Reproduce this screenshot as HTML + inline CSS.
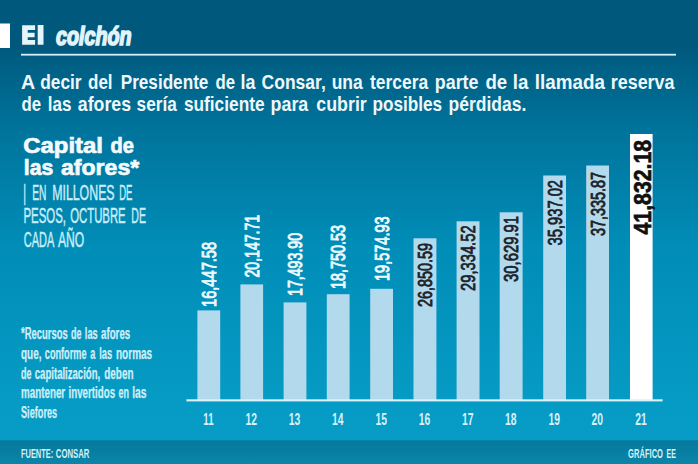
<!DOCTYPE html>
<html><head><meta charset="utf-8"><title>El colchón</title>
<style>
html,body{margin:0;padding:0;background:#0a97c2;}
body{width:698px;height:464px;overflow:hidden;font-family:"Liberation Sans",sans-serif;}
svg{display:block;font-family:"Liberation Sans",sans-serif;}
</style></head><body>
<svg width="698" height="464" viewBox="0 0 698 464">
<defs>
<linearGradient id="bg" gradientUnits="userSpaceOnUse" x1="0" y1="0" x2="0" y2="464">
<stop offset="0" stop-color="#00597d"/>
<stop offset="0.10" stop-color="#00597d"/>
<stop offset="0.29" stop-color="#00759d"/>
<stop offset="0.53" stop-color="#008db7"/>
<stop offset="0.86" stop-color="#069bc4"/>
<stop offset="1" stop-color="#069cc5"/>
</linearGradient>
<linearGradient id="ft" x1="0" y1="0" x2="0" y2="1">
<stop offset="0" stop-color="#05799b"/>
<stop offset="1" stop-color="#0a85a9"/>
</linearGradient>
</defs>
<rect x="0" y="0" width="698" height="464" fill="url(#bg)"/>
<rect x="0" y="440.3" width="698" height="24" fill="url(#ft)"/>
<rect x="0" y="23.5" width="10" height="24.5" fill="#ffffff"/>
<rect x="21" y="53.8" width="655" height="1.8" fill="#d8eef6"/>

<path d="M22.1 25.2H35.1V29.9H27.7V32.7H34.6V37.3H27.7V40.1H35.1V44.8H22.1Z M37.7 25H43.5V44.8H37.7Z" fill="#e6f4fb"/>
<text x="56" y="44.8" font-size="25.2" font-weight="bold" font-style="italic" fill="#e3f3fa" textLength="75.5" lengthAdjust="spacingAndGlyphs" stroke="#e3f3fa" stroke-width="1.7">colchón</text>
<text x="20.9" y="88.5" font-size="19.3" font-weight="bold" font-style="normal" fill="#eef8fc" textLength="14.2" lengthAdjust="spacingAndGlyphs" >A</text>
<text x="40.2" y="88.5" font-size="19.3" font-weight="bold" font-style="normal" fill="#eef8fc" textLength="41.4" lengthAdjust="spacingAndGlyphs" >decir</text>
<text x="88" y="88.5" font-size="19.3" font-weight="bold" font-style="normal" fill="#eef8fc" textLength="24.6" lengthAdjust="spacingAndGlyphs" >del</text>
<text x="120.7" y="88.5" font-size="19.3" font-weight="bold" font-style="normal" fill="#eef8fc" textLength="87.7" lengthAdjust="spacingAndGlyphs" >Presidente</text>
<text x="215.6" y="88.5" font-size="19.3" font-weight="bold" font-style="normal" fill="#eef8fc" textLength="19.6" lengthAdjust="spacingAndGlyphs" >de</text>
<text x="240.6" y="88.5" font-size="19.3" font-weight="bold" font-style="normal" fill="#eef8fc" textLength="14.9" lengthAdjust="spacingAndGlyphs" >la</text>
<text x="261.6" y="88.5" font-size="19.3" font-weight="bold" font-style="normal" fill="#eef8fc" textLength="64.2" lengthAdjust="spacingAndGlyphs" >Consar,</text>
<text x="331.7" y="88.5" font-size="19.3" font-weight="bold" font-style="normal" fill="#eef8fc" textLength="31.1" lengthAdjust="spacingAndGlyphs" >una</text>
<text x="370" y="88.5" font-size="19.3" font-weight="bold" font-style="normal" fill="#eef8fc" textLength="58.2" lengthAdjust="spacingAndGlyphs" >tercera</text>
<text x="434.8" y="88.5" font-size="19.3" font-weight="bold" font-style="normal" fill="#eef8fc" textLength="43.7" lengthAdjust="spacingAndGlyphs" >parte</text>
<text x="485.4" y="88.5" font-size="19.3" font-weight="bold" font-style="normal" fill="#eef8fc" textLength="21.8" lengthAdjust="spacingAndGlyphs" >de</text>
<text x="512.8" y="88.5" font-size="19.3" font-weight="bold" font-style="normal" fill="#eef8fc" textLength="15.6" lengthAdjust="spacingAndGlyphs" >la</text>
<text x="534.8" y="88.5" font-size="19.3" font-weight="bold" font-style="normal" fill="#eef8fc" textLength="70.1" lengthAdjust="spacingAndGlyphs" >llamada</text>
<text x="610.8" y="88.5" font-size="19.3" font-weight="bold" font-style="normal" fill="#eef8fc" textLength="63.7" lengthAdjust="spacingAndGlyphs" >reserva</text>
<text x="21.4" y="111.3" font-size="19.3" font-weight="bold" font-style="normal" fill="#eef8fc" textLength="19.6" lengthAdjust="spacingAndGlyphs" >de</text>
<text x="47.8" y="111.3" font-size="19.3" font-weight="bold" font-style="normal" fill="#eef8fc" textLength="23.7" lengthAdjust="spacingAndGlyphs" >las</text>
<text x="77.8" y="111.3" font-size="19.3" font-weight="bold" font-style="normal" fill="#eef8fc" textLength="53.2" lengthAdjust="spacingAndGlyphs" >afores</text>
<text x="136.6" y="111.3" font-size="19.3" font-weight="bold" font-style="normal" fill="#eef8fc" textLength="40.2" lengthAdjust="spacingAndGlyphs" >sería</text>
<text x="183.9" y="111.3" font-size="19.3" font-weight="bold" font-style="normal" fill="#eef8fc" textLength="80.7" lengthAdjust="spacingAndGlyphs" >suficiente</text>
<text x="270.6" y="111.3" font-size="19.3" font-weight="bold" font-style="normal" fill="#eef8fc" textLength="37.7" lengthAdjust="spacingAndGlyphs" >para</text>
<text x="316.3" y="111.3" font-size="19.3" font-weight="bold" font-style="normal" fill="#eef8fc" textLength="50.5" lengthAdjust="spacingAndGlyphs" >cubrir</text>
<text x="372.4" y="111.3" font-size="19.3" font-weight="bold" font-style="normal" fill="#eef8fc" textLength="69.8" lengthAdjust="spacingAndGlyphs" >posibles</text>
<text x="448.6" y="111.3" font-size="19.3" font-weight="bold" font-style="normal" fill="#eef8fc" textLength="77.7" lengthAdjust="spacingAndGlyphs" >pérdidas.</text>
<text x="23.3" y="152.8" font-size="21.4" font-weight="bold" font-style="normal" fill="#f2fafd" textLength="79.7" lengthAdjust="spacingAndGlyphs" stroke="#f2fafd" stroke-width="0.7">Capital</text>
<text x="110.4" y="152.8" font-size="21.4" font-weight="bold" font-style="normal" fill="#f2fafd" textLength="23.4" lengthAdjust="spacingAndGlyphs" stroke="#f2fafd" stroke-width="0.7">de</text>
<text x="23.8" y="175.1" font-size="21.4" font-weight="bold" font-style="normal" fill="#f2fafd" textLength="29.4" lengthAdjust="spacingAndGlyphs" stroke="#f2fafd" stroke-width="0.7">las</text>
<text x="61" y="175.1" font-size="21.4" font-weight="bold" font-style="normal" fill="#f2fafd" textLength="78.2" lengthAdjust="spacingAndGlyphs" stroke="#f2fafd" stroke-width="0.7">afores*</text>
<text x="23.3" y="199.8" font-size="22.5" font-weight="normal" font-style="normal" fill="#c8edf9" textLength="2.8" lengthAdjust="spacingAndGlyphs" stroke="#c8edf9" stroke-width="0.5">|</text>
<text x="32.3" y="199.8" font-size="22.5" font-weight="normal" font-style="normal" fill="#c8edf9" textLength="14.2" lengthAdjust="spacingAndGlyphs" stroke="#c8edf9" stroke-width="0.5">EN</text>
<text x="52.2" y="199.8" font-size="22.5" font-weight="normal" font-style="normal" fill="#c8edf9" textLength="62.4" lengthAdjust="spacingAndGlyphs" stroke="#c8edf9" stroke-width="0.5">MILLONES</text>
<text x="119.2" y="199.8" font-size="22.5" font-weight="normal" font-style="normal" fill="#c8edf9" textLength="13.3" lengthAdjust="spacingAndGlyphs" stroke="#c8edf9" stroke-width="0.5">DE</text>
<text x="23.5" y="223.2" font-size="22.5" font-weight="normal" font-style="normal" fill="#c8edf9" textLength="42.5" lengthAdjust="spacingAndGlyphs" stroke="#c8edf9" stroke-width="0.5">PESOS,</text>
<text x="70.2" y="223.2" font-size="22.5" font-weight="normal" font-style="normal" fill="#c8edf9" textLength="55.5" lengthAdjust="spacingAndGlyphs" stroke="#c8edf9" stroke-width="0.5">OCTUBRE</text>
<text x="131.3" y="223.2" font-size="22.5" font-weight="normal" font-style="normal" fill="#c8edf9" textLength="14.6" lengthAdjust="spacingAndGlyphs" stroke="#c8edf9" stroke-width="0.5">DE</text>
<text x="23.7" y="247" font-size="22.5" font-weight="normal" font-style="normal" fill="#c8edf9" textLength="30.6" lengthAdjust="spacingAndGlyphs" stroke="#c8edf9" stroke-width="0.5">CADA</text>
<text x="58" y="247" font-size="22.5" font-weight="normal" font-style="normal" fill="#c8edf9" textLength="26.3" lengthAdjust="spacingAndGlyphs" stroke="#c8edf9" stroke-width="0.5">AÑO</text>
<text x="21" y="339.1" font-size="15.6" font-weight="bold" font-style="normal" fill="#cfeffa" textLength="46.7" lengthAdjust="spacingAndGlyphs" stroke="#cfeffa" stroke-width="0.25">*Recursos</text>
<text x="71" y="339.1" font-size="15.6" font-weight="bold" font-style="normal" fill="#cfeffa" textLength="10.5" lengthAdjust="spacingAndGlyphs" stroke="#cfeffa" stroke-width="0.25">de</text>
<text x="84.8" y="339.1" font-size="15.6" font-weight="bold" font-style="normal" fill="#cfeffa" textLength="12.9" lengthAdjust="spacingAndGlyphs" stroke="#cfeffa" stroke-width="0.25">las</text>
<text x="101" y="339.1" font-size="15.6" font-weight="bold" font-style="normal" fill="#cfeffa" textLength="29.2" lengthAdjust="spacingAndGlyphs" stroke="#cfeffa" stroke-width="0.25">afores</text>
<text x="21" y="358.9" font-size="15.6" font-weight="bold" font-style="normal" fill="#cfeffa" textLength="20.5" lengthAdjust="spacingAndGlyphs" stroke="#cfeffa" stroke-width="0.25">que,</text>
<text x="44.8" y="358.9" font-size="15.6" font-weight="bold" font-style="normal" fill="#cfeffa" textLength="41.7" lengthAdjust="spacingAndGlyphs" stroke="#cfeffa" stroke-width="0.25">conforme</text>
<text x="90.2" y="358.9" font-size="15.6" font-weight="bold" font-style="normal" fill="#cfeffa" textLength="5.1" lengthAdjust="spacingAndGlyphs" stroke="#cfeffa" stroke-width="0.25">a</text>
<text x="99.2" y="358.9" font-size="15.6" font-weight="bold" font-style="normal" fill="#cfeffa" textLength="13.0" lengthAdjust="spacingAndGlyphs" stroke="#cfeffa" stroke-width="0.25">las</text>
<text x="116" y="358.9" font-size="15.6" font-weight="bold" font-style="normal" fill="#cfeffa" textLength="36.2" lengthAdjust="spacingAndGlyphs" stroke="#cfeffa" stroke-width="0.25">normas</text>
<text x="21" y="378.7" font-size="15.6" font-weight="bold" font-style="normal" fill="#cfeffa" textLength="10.5" lengthAdjust="spacingAndGlyphs" stroke="#cfeffa" stroke-width="0.25">de</text>
<text x="34.8" y="378.7" font-size="15.6" font-weight="bold" font-style="normal" fill="#cfeffa" textLength="65.4" lengthAdjust="spacingAndGlyphs" stroke="#cfeffa" stroke-width="0.25">capitalización,</text>
<text x="104.2" y="378.7" font-size="15.6" font-weight="bold" font-style="normal" fill="#cfeffa" textLength="29.3" lengthAdjust="spacingAndGlyphs" stroke="#cfeffa" stroke-width="0.25">deben</text>
<text x="21" y="398.4" font-size="15.6" font-weight="bold" font-style="normal" fill="#cfeffa" textLength="44.2" lengthAdjust="spacingAndGlyphs" stroke="#cfeffa" stroke-width="0.25">mantener</text>
<text x="68.5" y="398.4" font-size="15.6" font-weight="bold" font-style="normal" fill="#cfeffa" textLength="46.7" lengthAdjust="spacingAndGlyphs" stroke="#cfeffa" stroke-width="0.25">invertidos</text>
<text x="118.5" y="398.4" font-size="15.6" font-weight="bold" font-style="normal" fill="#cfeffa" textLength="10.5" lengthAdjust="spacingAndGlyphs" stroke="#cfeffa" stroke-width="0.25">en</text>
<text x="132.2" y="398.4" font-size="15.6" font-weight="bold" font-style="normal" fill="#cfeffa" textLength="14.3" lengthAdjust="spacingAndGlyphs" stroke="#cfeffa" stroke-width="0.25">las</text>
<text x="21" y="417.9" font-size="15.6" font-weight="bold" font-style="normal" fill="#cfeffa" textLength="36.2" lengthAdjust="spacingAndGlyphs" stroke="#cfeffa" stroke-width="0.25">Siefores</text>
<text x="21" y="457.6" font-size="13.2" font-weight="bold" font-style="normal" fill="#d5f0f8" textLength="32.2" lengthAdjust="spacingAndGlyphs" >FUENTE:</text>
<text x="55.8" y="457.6" font-size="13.2" font-weight="bold" font-style="normal" fill="#d5f0f8" textLength="33.6" lengthAdjust="spacingAndGlyphs" >CONSAR</text>
<text x="628.1" y="457.6" font-size="13.2" font-weight="bold" font-style="normal" fill="#d5f0f8" textLength="34.9" lengthAdjust="spacingAndGlyphs" >GRÁFICO</text>
<text x="666.5" y="457.6" font-size="13.2" font-weight="bold" font-style="normal" fill="#d5f0f8" textLength="9.3" lengthAdjust="spacingAndGlyphs" >EE</text>
<rect x="197.4" y="310.4" width="22.799999999999983" height="89.60000000000002" fill="#b3d9ed"/>
<rect x="240.4" y="284.4" width="22.700000000000017" height="115.60000000000002" fill="#b3d9ed"/>
<rect x="283.6" y="302.4" width="22.799999999999955" height="97.60000000000002" fill="#b3d9ed"/>
<rect x="326.8" y="294.2" width="22.80000000000001" height="105.80000000000001" fill="#b3d9ed"/>
<rect x="370.2" y="288.8" width="22.80000000000001" height="111.19999999999999" fill="#b3d9ed"/>
<rect x="413.5" y="238.3" width="22.899999999999977" height="161.7" fill="#b3d9ed"/>
<rect x="456.6" y="221.3" width="22.899999999999977" height="178.7" fill="#b3d9ed"/>
<rect x="499.7" y="212.3" width="22.900000000000034" height="187.7" fill="#b3d9ed"/>
<rect x="543.2" y="175.5" width="22.799999999999955" height="224.5" fill="#b3d9ed"/>
<rect x="586.2" y="165.5" width="22.799999999999955" height="234.5" fill="#b3d9ed"/>
<rect x="630.0" y="134.0" width="22.600000000000023" height="266.0" fill="#ffffff"/>
<rect x="186.4" y="399.3" width="476.2" height="2.1" fill="#dbf2fa"/>
<text x="203.3" y="424.7" font-size="15.8" font-weight="bold" font-style="normal" fill="#d9f1fa" textLength="10.2" lengthAdjust="spacingAndGlyphs" >11</text>
<text transform="translate(215.8,307.0) rotate(-90)" x="0" y="0" font-size="19.4" font-weight="normal" fill="#eef8fc" textLength="65.13" lengthAdjust="spacingAndGlyphs" stroke="#eef8fc" stroke-width="0.95">16,447.58</text>
<text x="245.6" y="424.7" font-size="15.8" font-weight="bold" font-style="normal" fill="#d9f1fa" textLength="11.5" lengthAdjust="spacingAndGlyphs" >12</text>
<text transform="translate(258.75,277.5) rotate(-90)" x="0" y="0" font-size="19.4" font-weight="normal" fill="#eef8fc" textLength="62.63" lengthAdjust="spacingAndGlyphs" stroke="#eef8fc" stroke-width="0.95">20,147.71</text>
<text x="288.85" y="424.7" font-size="15.8" font-weight="bold" font-style="normal" fill="#d9f1fa" textLength="11.5" lengthAdjust="spacingAndGlyphs" >13</text>
<text transform="translate(302.0,296.0) rotate(-90)" x="0" y="0" font-size="19.4" font-weight="normal" fill="#eef8fc" textLength="63.14" lengthAdjust="spacingAndGlyphs" stroke="#eef8fc" stroke-width="0.95">17,493.90</text>
<text x="332.05000000000007" y="424.7" font-size="15.8" font-weight="bold" font-style="normal" fill="#d9f1fa" textLength="11.5" lengthAdjust="spacingAndGlyphs" >14</text>
<text transform="translate(345.20000000000005,289.0) rotate(-90)" x="0" y="0" font-size="19.4" font-weight="normal" fill="#eef8fc" textLength="64.05" lengthAdjust="spacingAndGlyphs" stroke="#eef8fc" stroke-width="0.95">18,750.53</text>
<text x="375.45000000000005" y="424.7" font-size="15.8" font-weight="bold" font-style="normal" fill="#d9f1fa" textLength="11.5" lengthAdjust="spacingAndGlyphs" >15</text>
<text transform="translate(388.6,281.0) rotate(-90)" x="0" y="0" font-size="19.4" font-weight="normal" fill="#eef8fc" textLength="64.56" lengthAdjust="spacingAndGlyphs" stroke="#eef8fc" stroke-width="0.95">19,574.93</text>
<text x="418.8" y="424.7" font-size="15.8" font-weight="bold" font-style="normal" fill="#d9f1fa" textLength="11.5" lengthAdjust="spacingAndGlyphs" >16</text>
<text transform="translate(431.95,307.0) rotate(-90)" x="0" y="0" font-size="19.6" font-weight="normal" fill="#1b2228" textLength="64.03" lengthAdjust="spacingAndGlyphs" stroke="#1b2228" stroke-width="0.8">26,850.59</text>
<text x="461.90000000000003" y="424.7" font-size="15.8" font-weight="bold" font-style="normal" fill="#d9f1fa" textLength="11.5" lengthAdjust="spacingAndGlyphs" >17</text>
<text transform="translate(475.05,291.0) rotate(-90)" x="0" y="0" font-size="19.6" font-weight="normal" fill="#1b2228" textLength="65.6" lengthAdjust="spacingAndGlyphs" stroke="#1b2228" stroke-width="0.8">29,334.52</text>
<text x="505.0" y="424.7" font-size="15.8" font-weight="bold" font-style="normal" fill="#d9f1fa" textLength="11.5" lengthAdjust="spacingAndGlyphs" >18</text>
<text transform="translate(518.15,282.0) rotate(-90)" x="0" y="0" font-size="19.6" font-weight="normal" fill="#1b2228" textLength="66.11" lengthAdjust="spacingAndGlyphs" stroke="#1b2228" stroke-width="0.8">30,629.91</text>
<text x="548.45" y="424.7" font-size="15.8" font-weight="bold" font-style="normal" fill="#d9f1fa" textLength="11.5" lengthAdjust="spacingAndGlyphs" >19</text>
<text transform="translate(561.6,245.5) rotate(-90)" x="0" y="0" font-size="19.6" font-weight="normal" fill="#1b2228" textLength="65.57" lengthAdjust="spacingAndGlyphs" stroke="#1b2228" stroke-width="0.8">35,937.02</text>
<text x="591.45" y="424.7" font-size="15.8" font-weight="bold" font-style="normal" fill="#d9f1fa" textLength="11.5" lengthAdjust="spacingAndGlyphs" >20</text>
<text transform="translate(604.6,236.0) rotate(-90)" x="0" y="0" font-size="19.6" font-weight="normal" fill="#1b2228" textLength="64.04" lengthAdjust="spacingAndGlyphs" stroke="#1b2228" stroke-width="0.8">37,335.87</text>
<text x="635.15" y="424.7" font-size="15.8" font-weight="bold" font-style="normal" fill="#d9f1fa" textLength="11.5" lengthAdjust="spacingAndGlyphs" >21</text>
<text transform="translate(651.1999999999999,234.5) rotate(-90)" x="0" y="0" font-size="24.3" font-weight="bold" fill="#101010" textLength="94.62" lengthAdjust="spacingAndGlyphs" stroke="#101010" stroke-width="0.7">41,832.18</text>
</svg></body></html>
